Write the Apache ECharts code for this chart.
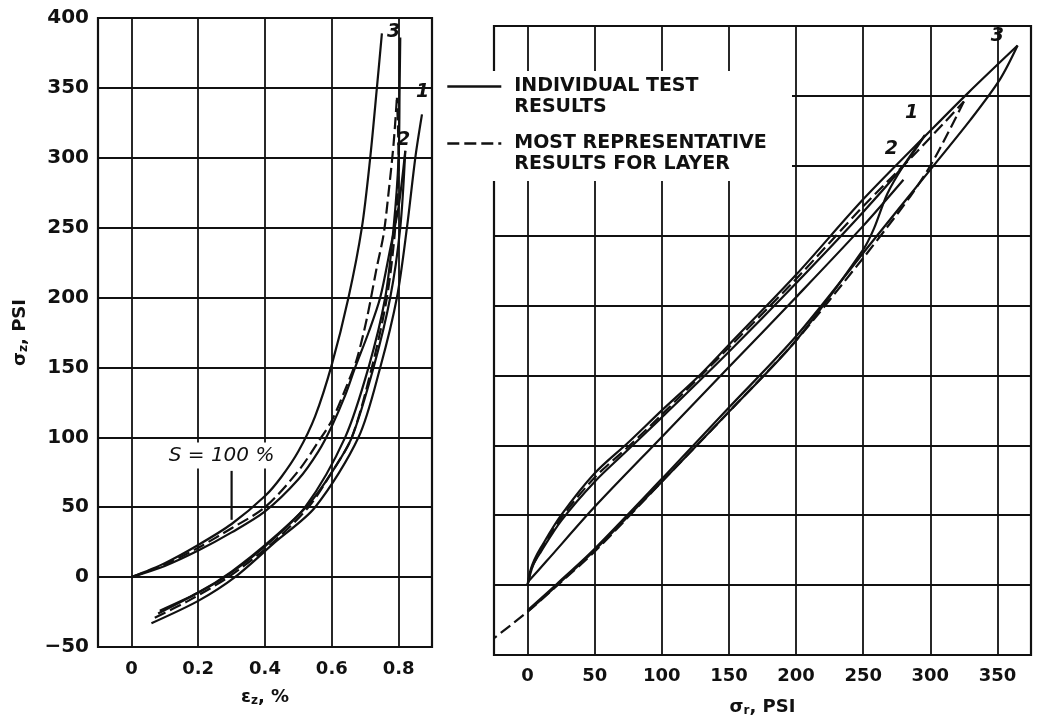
<!DOCTYPE html>
<html>
<head>
<meta charset="utf-8">
<script src="https://cdn.jsdelivr.net/npm/echarts@6/dist/echarts.min.js"></script>
<style>html,body{margin:0;padding:0;background:#fff}#c{width:1037px;height:722px}</style>
</head>
<body>
<div id="c"></div>
<script>
// ---------- tick values ----------
const strainTicks = [0, 0.2, 0.4, 0.6, 0.8];
const radialTicks = [0, 50, 100, 150, 200, 250, 300, 350];

// ---------- left panel: sigma_z (psi) vs eps_z (%) ----------
const epsLoadTest3 = [[0,0],[0.1,10],[0.2,23],[0.3,38],[0.4,58],[0.45,72],[0.5,90],[0.55,115],[0.6,152],[0.65,200],[0.69,250],[0.715,300],[0.735,350],[0.75,389]];
const epsLoadTest2 = [[0,0],[0.1,8],[0.2,19],[0.3,32],[0.4,47],[0.5,70],[0.56,90],[0.6,108],[0.64,130],[0.67,150],[0.71,175],[0.745,200],[0.775,235],[0.8,265],[0.82,305]];
const epsUnloadTest3 = [[0.805,386],[0.803,350],[0.8,300],[0.785,250],[0.76,200],[0.71,150],[0.64,100],[0.52,50],[0.4,22],[0.28,0],[0.17,-15],[0.08,-26]];
const epsUnloadTest2 = [[0.82,305],[0.805,250],[0.775,200],[0.725,150],[0.66,100],[0.6,75],[0.53,52],[0.42,27],[0.3,4],[0.2,-11],[0.085,-24]];
const epsUnloadLow = [[0.06,-33],[0.2,-17],[0.31,0],[0.43,25],[0.55,50],[0.68,100],[0.745,150],[0.795,200],[0.825,250],[0.85,300],[0.87,331]];
const epsRepLoad = [[0,0],[0.1,9],[0.2,21],[0.3,35],[0.4,50],[0.5,76],[0.56,97],[0.6,112],[0.645,137],[0.675,156],[0.705,185],[0.735,222],[0.755,245],[0.77,275],[0.785,310],[0.795,343]];
const epsRepUnload = [[0.07,-29],[0.17,-17],[0.29,0],[0.42,24],[0.53,50],[0.6,75],[0.66,100],[0.72,150],[0.765,200],[0.79,250],[0.8,300],[0.795,343]];
const sLeader = [[0.3,76],[0.3,41]];
const leftCurveLabels = [['3',0.785,390],['2',0.815,313],['1',0.872,347]];
const leftNote = [['S = 100 %',0.27,87]];

// ---------- right panel: sigma_z (psi) vs sigma_r (psi) ----------
const radLoadTest3 = [[0,0],[2,10],[5,18],[10,27],[25,50],[50,80],[75,102],[100,125],[128,150],[150,172],[200,222],[250,276],[300,325],[328,352],[365,386]];
const radLoadTest2 = [[0,0],[4,14],[10,24],[25,46],[50,74],[75,97],[100,120],[150,167],[200,216],[250,267],[280,300],[296,322]];
const radUnloadTest3 = [[365,386],[352,362],[330,333],[299,296],[257,246],[200,178],[150,127],[100,76],[50,26],[22,1],[0,-18]];
const radUnloadTest2 = [[296,322],[280,300],[268,280],[258,255],[250,240],[200,175],[150,124],[100,74],[50,25],[22,0],[0,-19]];
const radInner = [[0,2],[14,17],[50,56],[100,106],[150,156],[200,206],[250,257],[280,290]];
const radRepLoad = [[0,0],[3,12],[10,25],[25,48],[50,77],[75,99],[100,122],[150,170],[200,219],[250,271],[290,310],[325,346]];
const radRepUnload = [[325,346],[314,325],[300,300],[285,278],[267,255],[250,234],[200,175],[150,124],[100,74],[50,24],[20,-2],[0,-19],[-25,-38]];
const rightCurveLabels = [['3',350,393],['2',271,312],['1',286,338]];

// ---------- styling ----------
const FONT = "'DejaVu Sans', 'Open Sans', sans-serif";
const INK = '#111';
const SOLID = 'INDIVIDUAL TEST RESULTS';
const DASHED = 'MOST REPRESENTATIVE RESULTS FOR LAYER';
const legendText = {};
legendText[SOLID] = '{e| }\n{t|INDIVIDUAL TEST}\n{t|RESULTS}';
legendText[DASHED] = '{e| }\n{t|MOST REPRESENTATIVE}\n{t|RESULTS FOR LAYER}';

function curve(name, data, idx, dashed) {
  return {
    type: 'line', name: name, data: data, xAxisIndex: idx, yAxisIndex: idx,
    symbol: 'none', smooth: 0.3, silent: true, z: 3,
    lineStyle: {color: INK, width: 2.2, type: dashed ? [12, 5] : 'solid'},
    itemStyle: {color: INK}
  };
}
function textMarks(items, idx, labelOverride) {
  return {
    type: 'scatter', name: 'labels' + idx, xAxisIndex: idx, yAxisIndex: idx,
    data: items.map(function (d) { return {name: d[0], value: [d[1], d[2]]}; }),
    symbolSize: 1, itemStyle: {color: 'rgba(0,0,0,0)', opacity: 1}, silent: true, z: 6,
    label: Object.assign({show: true, position: 'inside', formatter: '{b}', color: INK,
      textBorderWidth: 0, fontFamily: FONT, fontWeight: 'bold', fontStyle: 'italic', fontSize: 19}, labelOverride || {})
  };
}

const gridLine = {show: true, lineStyle: {color: INK, width: 1.8}};
const tickLabel = {color: INK, fontFamily: FONT, fontWeight: 'bold', fontSize: 18};
const nameRich = {
  a: {fontFamily: FONT, fontWeight: 'bold', fontSize: 18, color: INK},
  s: {fontFamily: FONT, fontWeight: 'bold', fontSize: 12, color: INK, verticalAlign: 'bottom', padding: [8, 0, 0, 0]}
};

const option = {
  animation: false,
  backgroundColor: '#fff',
  grid: [
    {left: 98, top: 18, width: 334, height: 629, show: true, borderColor: INK, borderWidth: 2.2, backgroundColor: 'transparent'},
    {left: 494, top: 26, width: 537, height: 631, show: true, borderColor: INK, borderWidth: 2.2, backgroundColor: 'transparent'}
  ],
  xAxis: [
    {gridIndex: 0, type: 'value', min: -0.1, max: 0.9,
      axisLine: {show: false}, axisTick: {show: false, customValues: strainTicks},
      axisLabel: Object.assign({customValues: strainTicks, margin: 13}, tickLabel),
      splitLine: gridLine,
      name: '{a|ε}{s|z}{a|, %}', nameLocation: 'middle', nameGap: 40,
      nameTextStyle: {rich: nameRich}},
    {gridIndex: 1, type: 'value', min: -25, max: 375,
      axisLine: {show: false}, axisTick: {show: false, customValues: radialTicks},
      axisLabel: Object.assign({customValues: radialTicks, margin: 12}, tickLabel),
      splitLine: gridLine,
      name: '{a|σ}{s|r}{a|, PSI}', nameLocation: 'middle', nameGap: 42,
      nameTextStyle: {rich: nameRich}}
  ],
  yAxis: [
    {gridIndex: 0, type: 'value', min: -50, max: 400, interval: 50,
      axisLine: {show: false}, axisTick: {show: false},
      axisLabel: Object.assign({}, tickLabel, {margin: 9, fontSize: 20, formatter: function (v) { return String(v).replace('-', '\u2212'); }}),
      splitLine: gridLine,
      name: '{a|σ}{s|z}{a|, PSI}', nameLocation: 'middle', nameGap: 68,
      nameTextStyle: {rich: nameRich}},
    {gridIndex: 1, type: 'value', min: -50, max: 400, interval: 50,
      axisLine: {show: false}, axisTick: {show: false}, axisLabel: {show: false},
      splitLine: gridLine}
  ],
  legend: {
    data: [SOLID, DASHED], orient: 'vertical', left: 446, top: 56, z: 60,
    padding: 0, itemWidth: 54, itemHeight: 14, itemGap: -4, selectedMode: false,
    itemStyle: {color: 'rgba(0,0,0,0)', borderWidth: 0, opacity: 0},
    lineStyle: {color: INK, width: 2.6},
    formatter: function (n) { return legendText[n]; },
    textStyle: {color: INK, rich: {
      e: {fontFamily: FONT, fontSize: 19, lineHeight: 21},
      t: {fontFamily: FONT, fontWeight: 'bold', fontSize: 19, lineHeight: 21, color: INK, padding: [0, 0, 0, 8]}
    }}
  },
  graphic: [
    {type: 'rect', left: 478, top: 71, z: 50, silent: true, shape: {width: 314, height: 110}, style: {fill: '#fff'}}
  ],
  series: [
    curve(SOLID, epsLoadTest3, 0, false),
    curve(SOLID, epsLoadTest2, 0, false),
    curve(SOLID, epsUnloadTest3, 0, false),
    curve(SOLID, epsUnloadTest2, 0, false),
    curve(SOLID, epsUnloadLow, 0, false),
    curve(DASHED, epsRepLoad, 0, true),
    curve(DASHED, epsRepUnload, 0, true),
    curve('leader', sLeader, 0, false),
    curve(SOLID, radLoadTest3, 1, false),
    curve(SOLID, radLoadTest2, 1, false),
    curve(SOLID, radUnloadTest3, 1, false),
    curve(SOLID, radUnloadTest2, 1, false),
    curve(SOLID, radInner, 1, false),
    curve(DASHED, radRepLoad, 1, true),
    curve(DASHED, radRepUnload, 1, true),
    textMarks(leftCurveLabels, 0),
    textMarks(rightCurveLabels, 1),
    textMarks(leftNote, 0, {fontWeight: 'normal', fontSize: 20, backgroundColor: '#fff', padding: [3, 4]})
  ]
};
const chart = echarts.init(document.getElementById('c'));
chart.setOption(option);
</script>
</body>
</html>
